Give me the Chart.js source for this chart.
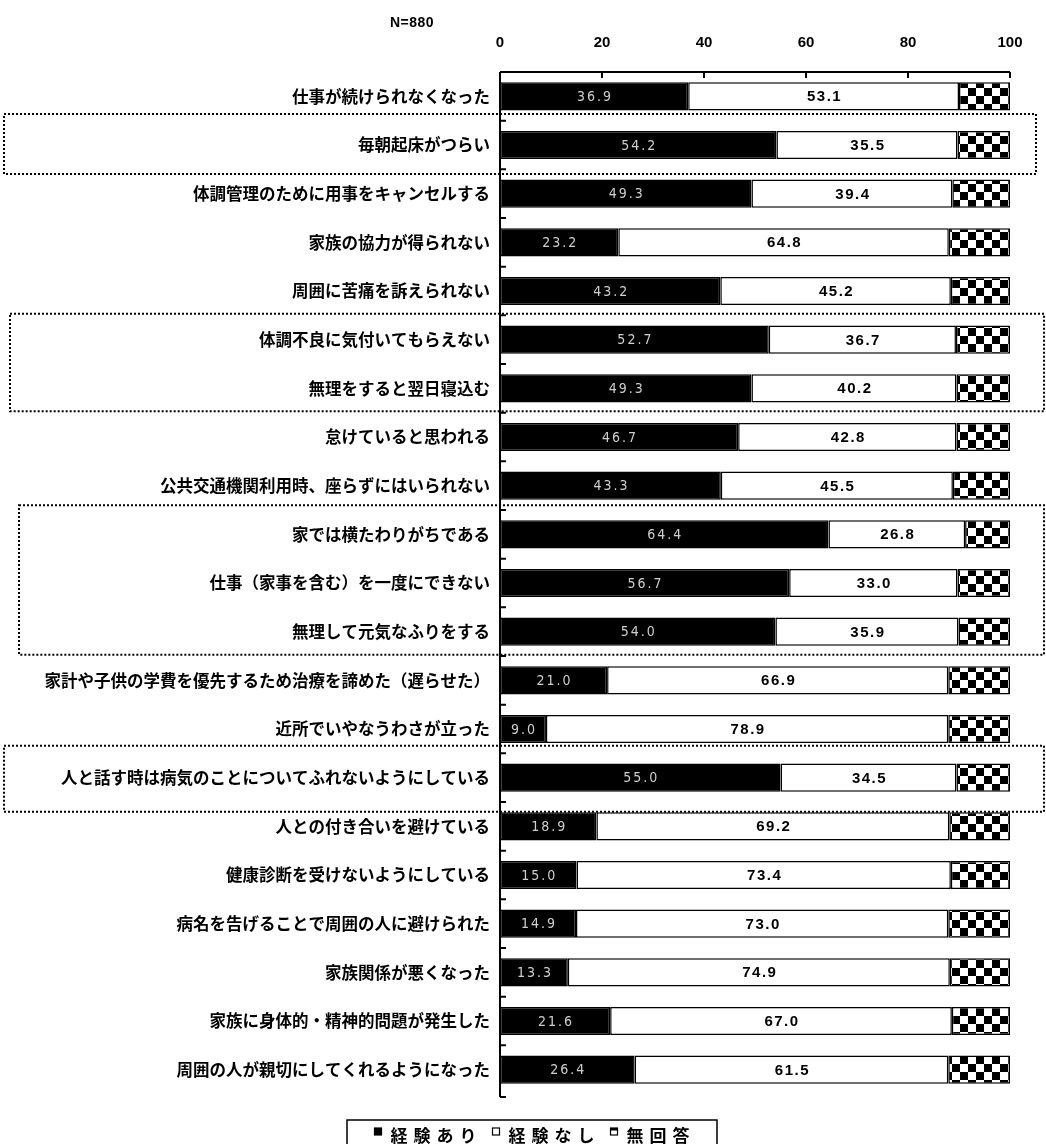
<!DOCTYPE html>
<html>
<head>
<meta charset="utf-8">
<script src="https://cdn.jsdelivr.net/npm/chart.js@4.4.1/dist/chart.umd.min.js"></script>
<style>
  html, body { margin: 0; padding: 0; background: #ffffff; }
  #wrap { width: 1046px; height: 1144px; position: relative; }
</style>
</head>
<body>
<div id="wrap"><canvas id="c" width="1046" height="1144"></canvas></div>
<script>
// ---- data ----
const categories = [
  '仕事が続けられなくなった',
  '毎朝起床がつらい',
  '体調管理のために用事をキャンセルする',
  '家族の協力が得られない',
  '周囲に苦痛を訴えられない',
  '体調不良に気付いてもらえない',
  '無理をすると翌日寝込む',
  '怠けていると思われる',
  '公共交通機関利用時、座らずにはいられない',
  '家では横たわりがちである',
  '仕事（家事を含む）を一度にできない',
  '無理して元気なふりをする',
  '家計や子供の学費を優先するため治療を諦めた（遅らせた）',
  '近所でいやなうわさが立った',
  '人と話す時は病気のことについてふれないようにしている',
  '人との付き合いを避けている',
  '健康診断を受けないようにしている',
  '病名を告げることで周囲の人に避けられた',
  '家族関係が悪くなった',
  '家族に身体的・精神的問題が発生した',
  '周囲の人が親切にしてくれるようになった'
];
const withExperience = [36.9, 54.2, 49.3, 23.2, 43.2, 52.7, 49.3, 46.7, 43.3, 64.4, 56.7, 54.0, 21.0, 9.0, 55.0, 18.9, 15.0, 14.9, 13.3, 21.6, 26.4];
const withoutExperience = [53.1, 35.5, 39.4, 64.8, 45.2, 36.7, 40.2, 42.8, 45.5, 26.8, 33.0, 35.9, 66.9, 78.9, 34.5, 69.2, 73.4, 73.0, 74.9, 67.0, 61.5];
const noAnswer = [10.0, 10.3, 11.3, 12.0, 11.6, 10.6, 10.5, 10.5, 11.2, 8.8, 10.3, 10.1, 12.1, 12.1, 10.5, 11.9, 11.6, 12.1, 11.8, 11.4, 12.1];
const seriesNames = ['経験あり', '経験なし', '無回答'];
const xTickValues = [0, 20, 40, 60, 80, 100];
const sampleNote = 'N=880';
// highlighted rows (first index, last index), framed with a dotted border
const framedGroups = [[1, 1], [5, 6], [9, 11], [14, 14]];

// ---- drawing helpers ----
const canvas = document.getElementById('c');
const ctx0 = canvas.getContext('2d');

function checkerPattern() {
  const s = 8;
  const tile = document.createElement('canvas');
  tile.width = tile.height = s * 2;
  const g = tile.getContext('2d');
  g.fillStyle = '#ffffff';
  g.fillRect(0, 0, s * 2, s * 2);
  g.fillStyle = '#000000';
  g.fillRect(0, 0, s, s);
  g.fillRect(s, s, s, s);
  return ctx0.createPattern(tile, 'repeat');
}
const checker = checkerPattern();

const JP = '"Noto Sans CJK JP", "Noto Sans", sans-serif';

// axis frame: top line with inward ticks, left line with inward category ticks
const framePlugin = {
  id: 'frame',
  afterDatasetsDraw(chart) {
    const { ctx, chartArea: a, scales } = chart;
    const x = scales.x;
    const n = categories.length;
    const step = (a.bottom - a.top) / n;
    ctx.save();
    ctx.strokeStyle = '#000';
    ctx.lineWidth = 2;
    ctx.beginPath();
    ctx.moveTo(a.left, a.top);
    ctx.lineTo(a.right, a.top);
    ctx.moveTo(a.left, a.top);
    ctx.lineTo(a.left, a.bottom + 3);
    xTickValues.forEach(v => {
      const px = x.getPixelForValue(v);
      ctx.moveTo(px, a.top);
      ctx.lineTo(px, a.top + 6);
    });
    for (let i = 1; i <= n; i++) {
      const py = a.top + i * step + (i === n ? 3 : 0);
      ctx.moveTo(a.left, py);
      ctx.lineTo(a.left + 6, py);
    }
    ctx.stroke();
    ctx.restore();
  }
};

// value labels inside the first two segments
const valuePlugin = {
  id: 'values',
  afterDatasetsDraw(chart) {
    const { ctx } = chart;
    ctx.save();
    ctx.textAlign = 'center';
    ctx.textBaseline = 'middle';
    [0, 1].forEach(di => {
      const meta = chart.getDatasetMeta(di);
      const vals = chart.data.datasets[di].data;
      meta.data.forEach((el, i) => {
        const cx = (el.x + el.base) / 2;
        if (di === 0) {
          ctx.fillStyle = '#cfcfcf';
          ctx.font = '14px "DejaVu Sans Condensed", "DejaVu Sans", sans-serif';
          ctx.letterSpacing = '2px';
        } else {
          ctx.fillStyle = '#000';
          ctx.font = 'bold 15px "Liberation Sans", Arial, sans-serif';
          ctx.letterSpacing = '1.5px';
        }
        ctx.fillText(vals[i].toFixed(1), cx + 1, el.y + 1);
      });
    });
    ctx.restore();
  }
};

// frame geometry for the highlighted rows: left, right, extra above, extra below
const frameBoxes = [
  { left: 4, right: 1036, above: 31, below: 29 },
  { left: 10, right: 1044, above: 26, below: 23 },
  { left: 19, right: 1044, above: 29, below: 23 },
  { left: 4, right: 1044, above: 32, below: 34 }
];

// dotted frames around highlighted rows + sample size note + legend
const extrasPlugin = {
  id: 'extras',
  afterDraw(chart) {
    const { ctx, scales } = chart;
    const y = scales.y;
    ctx.save();
    ctx.strokeStyle = '#000';
    ctx.lineWidth = 2;
    ctx.setLineDash([2, 2]);
    framedGroups.forEach(([s, e], k) => {
      const b = frameBoxes[k];
      const top = y.getPixelForValue(s) - b.above;
      const bottom = y.getPixelForValue(e) + b.below;
      ctx.strokeRect(b.left, top, b.right - b.left, bottom - top);
    });
    ctx.setLineDash([]);

    // sample size
    ctx.fillStyle = '#000';
    ctx.font = 'bold 14px "Liberation Sans", Arial, sans-serif';
    ctx.letterSpacing = '0.5px';
    ctx.textAlign = 'center';
    ctx.textBaseline = 'middle';
    ctx.fillText(sampleNote, 412, 23);
    ctx.letterSpacing = '0px';

    // legend
    const boxL = 347, boxR = 717, boxT = 1120;
    ctx.lineWidth = 1.5;
    ctx.strokeStyle = '#000';
    ctx.beginPath();
    ctx.moveTo(boxL, 1150);
    ctx.lineTo(boxL, boxT);
    ctx.lineTo(boxR, boxT);
    ctx.lineTo(boxR, 1150);
    ctx.stroke();
    ctx.font = 'bold 17px ' + JP;
    ctx.textAlign = 'left';
    ctx.textBaseline = 'middle';
    const gap = 16, mark = 7, markGap = 9, spacing = 6;
    const items = chart.data.datasets.map(d => d.label);
    const textW = t => [...t].reduce((w, ch) => w + ctx.measureText(ch).width + spacing, -spacing);
    let total = 0;
    items.forEach((t, i) => {
      total += mark + markGap + textW(t) + (i < items.length - 1 ? gap : 0);
    });
    let x = (boxL + boxR) / 2 - total / 2;
    const ty = 1136;
    items.forEach((t, i) => {
      ctx.fillStyle = i === 0 ? '#000' : '#fff';
      ctx.fillRect(x, ty - 8, mark, mark);
      ctx.lineWidth = 1.2;
      ctx.strokeRect(x, ty - 8, mark, mark);
      if (i === 2) { ctx.fillStyle = '#000'; ctx.fillRect(x, ty - 8, mark, 2.5); }
      x += mark + markGap;
      ctx.fillStyle = '#000';
      [...t].forEach(ch => {
        ctx.fillText(ch, x, ty);
        x += ctx.measureText(ch).width + spacing;
      });
      x += gap - spacing;
    });
    ctx.restore();
  }
};

const barOpts = { barPercentage: 0.58, categoryPercentage: 1.0, borderColor: '#000', borderWidth: 1.5, borderSkipped: false };

new Chart(canvas, {
  type: 'bar',
  data: {
    labels: categories,
    datasets: [
      Object.assign({ label: seriesNames[0], data: withExperience, backgroundColor: '#000' }, barOpts),
      Object.assign({ label: seriesNames[1], data: withoutExperience, backgroundColor: '#fff' }, barOpts),
      Object.assign({ label: seriesNames[2], data: noAnswer, backgroundColor: checker }, barOpts)
    ]
  },
  options: {
    indexAxis: 'y',
    responsive: false,
    animation: false,
    devicePixelRatio: 1,
    layout: { padding: { top: 0, left: 0, right: 36, bottom: 50 } },
    plugins: { legend: { display: false }, tooltip: { enabled: false } },
    scales: {
      x: {
        type: 'linear', position: 'top', min: 0, max: 100, stacked: true,
        afterBuildTicks: s => { s.ticks = xTickValues.map(v => ({ value: v })); },
        grid: { display: false, drawTicks: false },
        border: { display: false },
        ticks: {
          padding: 20, color: '#000', maxRotation: 0,
          font: { family: '"Liberation Sans", Arial, sans-serif', weight: 'bold', size: 15 }
        },
        afterFit: s => { s.height = 72; s.paddingLeft = 0; s.paddingRight = 0; }
      },
      y: {
        stacked: true,
        grid: { display: false, drawTicks: false },
        border: { display: false },
        ticks: {
          padding: 10, color: '#000', autoSkip: false,
          font: { family: JP, weight: 'bold', size: 16.5 }
        },
        afterFit: s => { s.width = 500; }
      }
    }
  },
  plugins: [framePlugin, valuePlugin, extrasPlugin]
});
</script>
</body>
</html>
